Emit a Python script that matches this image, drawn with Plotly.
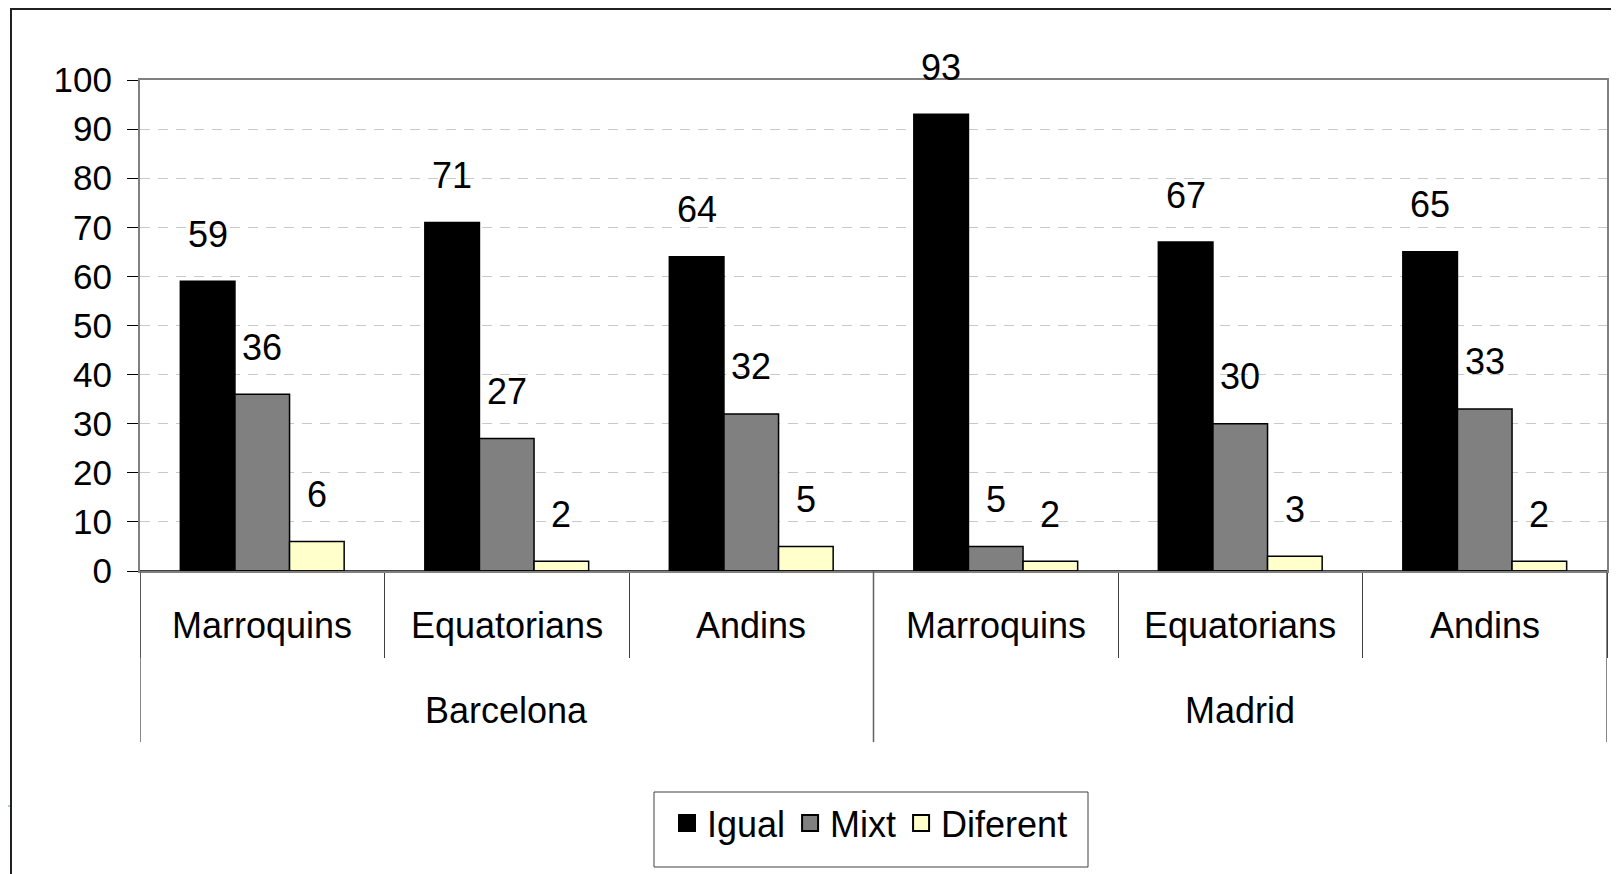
import plotly.graph_objects as go

# ---- data ----
cities = ["Barcelona", "Madrid"]
groups = ["Marroquins", "Equatorians", "Andins"]
series = ["Igual", "Mixt", "Diferent"]
igual = [59, 71, 64, 93, 67, 65]
mixt = [36, 27, 32, 5, 30, 33]
diferent = [6, 2, 5, 2, 3, 2]
y_ticks = [0, 10, 20, 30, 40, 50, 60, 70, 80, 90, 100]

values = [igual, mixt, diferent]
colors = ["#000000", "#808080", "#FFFFCC"]
FONT = "Arial, Liberation Sans, sans-serif"

n = len(cities) * len(groups)
xpos = list(range(n))
sub_labels = groups * len(cities)

BARGAP = 0.33
w = (1 - BARGAP) / len(series)

# page is rendered with an 8px body margin
OFF = 8
W, H = 1619 - OFF, 874 - OFF
ML, MR, MT, MB = 140 - OFF, 12, 80 - OFF, 303
PH = H - MT - MB
PW = W - ML - MR


def px_x(page_x):
    return (page_x - OFF - ML) / PW


def px_y(page_y):
    return (MT + PH - (page_y - OFF)) / PH


fig = go.Figure()
for name, vals, col in zip(series, values, colors):
    fig.add_trace(go.Bar(
        x=xpos, y=vals, name=name, showlegend=False,
        marker=dict(color=col, line=dict(color="#000000", width=1.5)),
        hoverinfo="y+name"))
for name, col in zip(series, colors):
    fig.add_trace(go.Scatter(
        x=[None], y=[None], mode="markers", name=name,
        marker=dict(symbol="square", size=23, color=col,
                    line=dict(color="#000000", width=2))))

# data labels
for j, vals in enumerate(values):
    off = (j - (len(series) - 1) / 2) * w
    for i, v in zip(xpos, vals):
        fig.add_annotation(x=i + off, y=v, text=str(v), showarrow=False,
                           yanchor="middle", yshift=47,
                           font=dict(family=FONT, size=36, color="#000000"))

# category labels (two levels)
for i, lab in zip(xpos, sub_labels):
    fig.add_annotation(x=i, y=0, yref="paper", text=lab, showarrow=False,
                       yanchor="middle", yshift=-54,
                       font=dict(family=FONT, size=36, color="#000000"))
for k, city in enumerate(cities):
    idx = xpos[k * len(groups):(k + 1) * len(groups)]
    fig.add_annotation(x=sum(idx) / len(idx), y=0, yref="paper", text=city,
                       showarrow=False, yanchor="middle", yshift=-139,
                       font=dict(family=FONT, size=36, color="#000000"))

shapes = []
# group dividers
for k in range(len(cities) + 1):
    xb = k * len(groups) - 0.5
    shapes.append(dict(type="line", xref="x", yref="paper", x0=xb, x1=xb,
                       y0=0, y1=-171 / PH, line=dict(color="#606060", width=1.5)))
# baseline at zero
shapes.append(dict(type="line", xref="paper", yref="y", x0=0, x1=1, y0=0, y1=0,
                   line=dict(color="#000000", width=1.5), layer="above"))
# outer chart frame
shapes.append(dict(type="rect", xref="paper", yref="paper",
                   x0=px_x(11), x1=px_x(1650), y0=px_y(900), y1=px_y(9),
                   line=dict(color="#202020", width=2), fillcolor="rgba(0,0,0,0)",
                   layer="below"))
# legend box
shapes.append(dict(type="rect", xref="paper", yref="paper",
                   x0=px_x(654), x1=px_x(1088), y0=px_y(867), y1=px_y(792),
                   line=dict(color="#404040", width=1), fillcolor="rgba(0,0,0,0)"))
# small artifact line at left edge
shapes.append(dict(type="line", xref="paper", yref="paper",
                   x0=px_x(0), x1=px_x(10), y0=px_y(806), y1=px_y(806),
                   line=dict(color="#9ab4d0", width=1.5)))

fig.update_layout(
    width=W, height=H,
    margin=dict(l=ML, r=MR, t=MT, b=MB, pad=0, autoexpand=False),
    paper_bgcolor="white", plot_bgcolor="white",
    barmode="group", bargap=BARGAP, bargroupgap=0,
    font=dict(family=FONT, size=36, color="#000000"),
    shapes=shapes,
    legend=dict(orientation="h", x=px_x(870), xanchor="center",
                y=px_y(823), yanchor="middle",
                borderwidth=0, bgcolor="rgba(0,0,0,0)",
                font=dict(family=FONT, size=36, color="#000000"),
                itemwidth=30, tracegroupgap=0),
    xaxis=dict(range=[-0.5, n - 0.5], showgrid=False, zeroline=False,
               showline=True, linecolor="#808080", linewidth=2, mirror=True,
               tickmode="array", tickvals=[i - 0.5 for i in range(n + 1)],
               ticks="outside", ticklen=85, tickcolor="#404040", tickwidth=1,
               showticklabels=False),
    yaxis=dict(range=[0, 100], tickmode="array", tickvals=y_ticks,
               ticks="outside", ticklen=11, tickcolor="#000000", tickwidth=1,
               showline=True, linecolor="#808080", linewidth=2, mirror=True,
               showgrid=True, gridcolor="#c8c8c8", gridwidth=1,
               griddash="10px,8px", zeroline=False,
               tickfont=dict(family=FONT, size=35, color="#000000"),
               ticklabelstandoff=8),
)

fig.write_html("out.html")
